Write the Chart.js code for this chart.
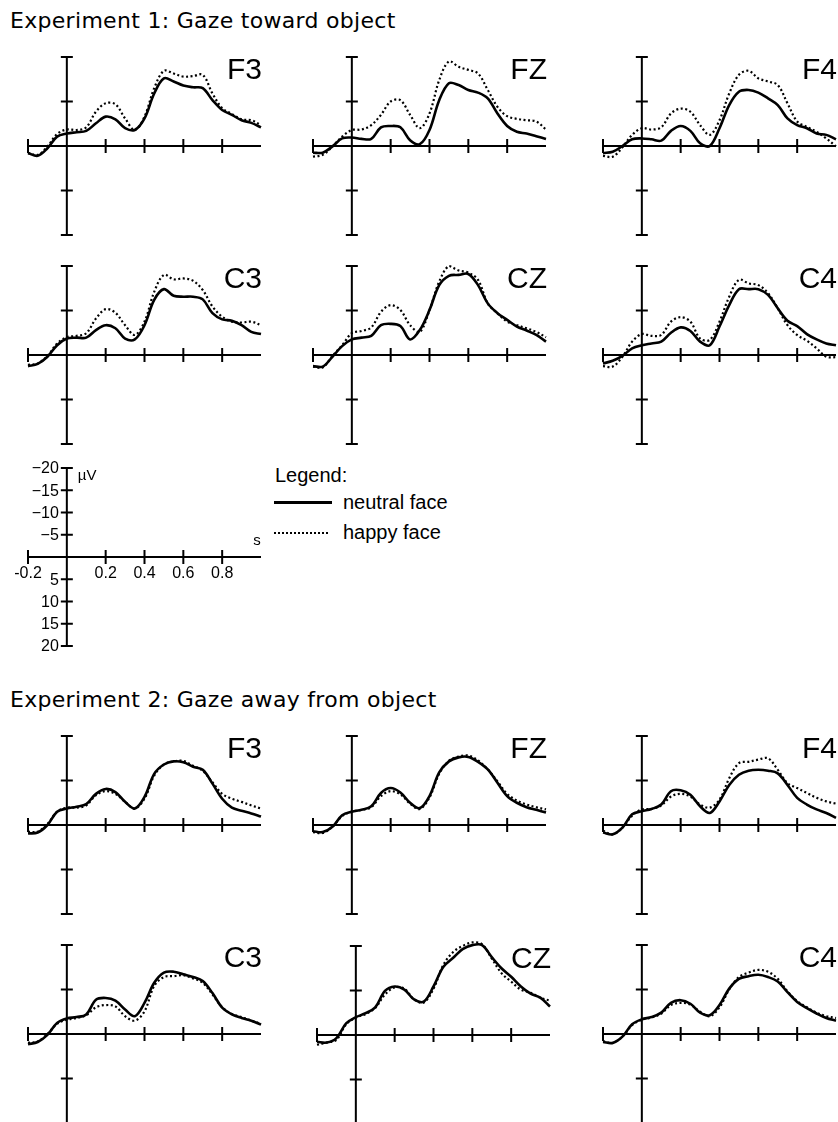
<!DOCTYPE html>
<html>
<head>
<meta charset="utf-8">
<script src="https://cdn.jsdelivr.net/npm/chart.js@4.4.1/dist/chart.umd.min.js"></script>
<style>
  html, body { margin: 0; padding: 0; background: #fff; }
  body { width: 838px; height: 1122px; overflow: hidden; position: relative; }
  canvas { position: absolute; }
  .txt { position: absolute; white-space: nowrap; line-height: 1; color: #000; }
  .title { font-family: "DejaVu Sans", sans-serif; font-size: 22px; letter-spacing: 0.3px; }
  .leg { font-family: "Liberation Sans", Arial, sans-serif; font-size: 20px; }
</style>
</head>
<body>
<div class="txt title" style="left:10px; top:10px;">Experiment 1: Gaze toward object</div>
<div class="txt title" style="left:10px; top:689px;">Experiment 2: Gaze away from object</div>

<div class="txt leg" style="left:275px; top:465px;">Legend:</div>
<div style="position:absolute; left:274px; top:501px; width:58px; height:0; border-top:3px solid #000;"></div>
<div class="txt leg" style="left:343px; top:492px;">neutral face</div>
<div style="position:absolute; left:274px; top:532px; width:54px; height:0; border-top:2px dotted #000;"></div>
<div class="txt leg" style="left:343px; top:522px;">happy face</div>

<script>
// time axis in seconds, one sample every 50 ms
const times = [-0.2, -0.15, -0.1, -0.05, 0, 0.05, 0.1, 0.15, 0.2, 0.25, 0.3, 0.35, 0.4,
  0.45, 0.5, 0.55, 0.6, 0.65, 0.7, 0.75, 0.8, 0.85, 0.9, 0.95, 1.0];

// Experiment 1 (µV, negative is up)
const exp1F3Neutral = [1.6, 2.2, 0.5, -2.1, -2.8, -3.1, -3.4, -5.1, -6.6, -6.0, -4.0, -3.6, -6.2,
  -11.8, -15.2, -14.5, -13.6, -13.2, -13.0, -10.3, -8.1, -7.0, -5.8, -5.2, -4.2];
const exp1F3Happy = [1.6, 2.0, 0.1, -2.7, -3.7, -3.6, -4.2, -7.7, -9.6, -9.4, -6.2, -3.6, -6.6,
  -13.0, -16.9, -16.3, -15.6, -15.7, -16.0, -11.8, -8.5, -7.2, -6.0, -5.8, -4.7];
const exp1FZNeutral = [1.5, 1.5, 0.1, -1.7, -1.9, -1.6, -1.6, -4.2, -4.5, -4.2, -1.3, -0.4, -3.6,
  -10.3, -14.1, -13.7, -12.6, -12.0, -10.7, -7.3, -4.5, -3.2, -2.8, -2.2, -1.6];
const exp1FZHappy = [2.4, 2.0, 0.1, -2.1, -3.6, -3.7, -4.7, -7.0, -10.0, -10.3, -7.0, -4.0, -7.3,
  -14.8, -19.0, -17.8, -17.1, -16.3, -12.6, -8.8, -6.7, -6.1, -5.8, -5.5, -3.7];
const exp1F4Neutral = [1.6, 1.3, 0.0, -1.5, -1.7, -1.5, -1.2, -3.4, -4.5, -3.4, -0.6, 0.0, -4.0,
  -9.2, -12.2, -12.6, -12.0, -10.7, -9.2, -6.2, -4.7, -4.0, -2.8, -2.5, -1.5];
const exp1F4Happy = [2.2, 2.4, 0.3, -2.5, -4.0, -3.7, -4.2, -7.3, -8.4, -7.7, -4.7, -2.5, -5.8,
  -11.8, -16.0, -16.9, -15.2, -14.5, -13.7, -9.6, -5.5, -4.3, -3.2, -1.7, 0.1];
const exp1C3Neutral = [2.5, 2.0, 0.4, -2.2, -3.7, -3.9, -3.9, -5.6, -6.7, -6.0, -3.7, -3.5, -6.7,
  -12.4, -14.8, -13.3, -13.1, -13.1, -12.5, -9.4, -8.0, -7.7, -6.7, -5.2, -4.7];
const exp1C3Happy = [2.2, 1.9, 0.2, -2.6, -4.0, -4.3, -4.9, -8.2, -10.3, -9.5, -6.7, -4.5, -7.5,
  -14.2, -18.0, -17.0, -17.2, -16.7, -14.6, -10.9, -8.6, -7.5, -7.3, -7.5, -6.7];
const exp1CZNeutral = [2.5, 2.6, 0.4, -2.0, -3.5, -3.9, -4.3, -6.7, -7.0, -6.5, -3.5, -5.6, -10.1,
  -15.7, -17.8, -18.0, -18.2, -15.7, -11.6, -9.4, -7.9, -6.4, -5.5, -4.5, -3.0];
const exp1CZHappy = [2.6, 2.8, 0.2, -2.2, -4.9, -5.4, -6.2, -9.7, -11.2, -10.1, -6.7, -5.2, -10.1,
  -16.5, -20.0, -19.0, -18.5, -16.9, -11.6, -9.4, -7.5, -6.7, -6.0, -5.2, -4.0];
const exp1C4Neutral = [1.9, 1.3, 0.2, -1.5, -2.2, -2.6, -3.0, -5.0, -6.2, -5.4, -3.0, -2.2, -6.4,
  -11.2, -14.8, -14.8, -14.8, -13.5, -10.5, -7.7, -6.5, -4.7, -3.5, -2.6, -2.2];
const exp1C4Happy = [2.5, 2.6, 0.4, -3.0, -4.7, -4.3, -4.5, -7.5, -8.5, -7.5, -3.7, -3.4, -7.5,
  -13.1, -16.9, -16.1, -15.7, -13.9, -10.5, -6.7, -4.5, -3.2, -1.5, 0.4, 0.5];

// Experiment 2
const exp2F3Neutral = [1.9, 1.7, 0.0, -3.0, -3.7, -4.1, -4.7, -7.0, -8.1, -7.4, -5.2, -3.7, -6.3,
  -11.5, -13.6, -14.3, -14.1, -13.1, -12.4, -9.3, -5.9, -3.9, -3.2, -2.6, -1.9];
const exp2F3Happy = [1.5, 1.5, -0.2, -3.0, -3.9, -3.9, -4.4, -6.7, -7.6, -7.0, -5.2, -3.7, -5.9,
  -11.1, -13.6, -14.3, -14.4, -13.3, -12.2, -9.6, -7.0, -5.9, -5.2, -4.4, -3.7];
const exp2FZNeutral = [1.4, 1.6, 0.4, -2.2, -3.0, -3.4, -4.2, -7.2, -8.3, -7.3, -5.0, -3.8, -6.5,
  -11.8, -14.3, -15.2, -15.3, -14.2, -12.5, -9.5, -6.5, -5.0, -4.0, -3.4, -2.8];
const exp2FZHappy = [1.6, 1.8, 0.4, -2.0, -3.0, -3.4, -4.0, -6.5, -7.6, -6.9, -4.8, -3.6, -6.2,
  -11.5, -14.4, -15.4, -15.6, -14.5, -12.5, -9.8, -7.0, -5.5, -4.6, -4.0, -3.5];
const exp2F4Neutral = [1.7, 2.1, 0.6, -2.4, -3.1, -3.6, -4.6, -7.6, -7.8, -6.8, -4.2, -2.7, -5.3,
  -9.0, -11.3, -12.2, -12.4, -12.2, -11.6, -9.0, -6.1, -4.6, -3.5, -2.7, -1.6];
const exp2F4Happy = [1.3, 2.1, 0.6, -2.1, -3.5, -3.6, -4.4, -6.4, -7.0, -6.4, -4.6, -3.9, -5.7,
  -10.5, -13.9, -14.2, -14.7, -15.0, -12.4, -9.4, -8.3, -7.2, -6.1, -5.3, -4.8];
const exp2C3Neutral = [2.3, 1.8, 0.2, -2.5, -3.5, -3.8, -4.4, -7.7, -8.1, -7.5, -5.5, -4.0, -7.0,
  -11.5, -13.8, -14.0, -13.4, -12.8, -11.9, -9.2, -5.9, -4.4, -3.6, -3.0, -2.1];
const exp2C3Happy = [2.0, 1.7, 0.0, -2.3, -3.2, -3.6, -4.2, -6.0, -6.5, -6.2, -4.0, -3.0, -5.1,
  -10.8, -12.8, -13.0, -13.2, -12.5, -11.5, -8.9, -6.0, -4.5, -3.8, -3.0, -2.3];
const exp2CZNeutral = [1.5, 1.7, 0.7, -2.6, -4.0, -4.9, -6.2, -9.9, -10.9, -10.2, -8.0, -7.5, -10.9,
  -15.3, -17.3, -19.3, -20.2, -20.2, -17.5, -15.0, -13.1, -10.9, -9.3, -8.4, -6.4];
const exp2CZHappy = [2.2, 1.7, 1.1, -2.4, -3.9, -4.7, -6.1, -9.1, -10.7, -10.4, -8.0, -7.3, -10.4,
  -15.7, -18.6, -20.0, -20.8, -20.4, -17.2, -13.9, -12.0, -10.2, -9.5, -8.4, -7.7];
const exp2C4Neutral = [1.8, 2.0, 0.6, -2.2, -3.3, -3.8, -4.8, -7.0, -7.6, -6.8, -4.8, -4.2, -6.5,
  -10.2, -12.4, -13.0, -13.3, -12.8, -11.8, -9.4, -7.2, -5.8, -4.6, -3.6, -3.0];
const exp2C4Happy = [1.6, 2.0, 0.6, -2.0, -3.2, -3.7, -4.6, -6.5, -7.0, -6.6, -5.0, -4.0, -6.0,
  -10.0, -12.8, -13.8, -14.4, -14.0, -12.4, -9.6, -7.4, -6.0, -4.8, -4.0, -3.6];

// axis ticks
const panelXTicks = [-0.2, 0.2, 0.4, 0.6, 0.8];
const panelYTicks = [-20, -10, 10, 20];
const scaleYTicks = [-20, -15, -10, -5, 5, 10, 15, 20];
const scaleXTicks = [-0.2, 0.2, 0.4, 0.6, 0.8];

// layout: plot area size and the pixel where (0 s, 0 µV) sits for each panel
const AREA_W = 233;
const AREA_H = 178;
const PAD = 14;

const panels = [
  { name: 'F3', x0: 67, y0: 146, neutral: exp1F3Neutral, happy: exp1F3Happy },
  { name: 'FZ', x0: 352, y0: 146, neutral: exp1FZNeutral, happy: exp1FZHappy },
  { name: 'F4', x0: 642, y0: 146, neutral: exp1F4Neutral, happy: exp1F4Happy },
  { name: 'C3', x0: 67, y0: 355, neutral: exp1C3Neutral, happy: exp1C3Happy },
  { name: 'CZ', x0: 352, y0: 355, neutral: exp1CZNeutral, happy: exp1CZHappy },
  { name: 'C4', x0: 642, y0: 355, neutral: exp1C4Neutral, happy: exp1C4Happy },
  { name: 'F3', x0: 67, y0: 825, neutral: exp2F3Neutral, happy: exp2F3Happy },
  { name: 'FZ', x0: 352, y0: 825, neutral: exp2FZNeutral, happy: exp2FZHappy },
  { name: 'F4', x0: 642, y0: 825, neutral: exp2F4Neutral, happy: exp2F4Happy },
  { name: 'C3', x0: 67, y0: 1034, neutral: exp2C3Neutral, happy: exp2C3Happy },
  { name: 'CZ', x0: 356, y0: 1035, neutral: exp2CZNeutral, happy: exp2CZHappy },
  { name: 'C4', x0: 642, y0: 1034, neutral: exp2C4Neutral, happy: exp2C4Happy },
];

// draws the crossing axes with tick marks, plus optional labels
const erpAxes = {
  id: 'erpAxes',
  beforeDatasetsDraw(chart, args, opts) {
    const { ctx } = chart;
    const x = chart.scales.x;
    const y = chart.scales.y;
    const cx = x.getPixelForValue(0);
    const cy = y.getPixelForValue(0);
    ctx.save();
    ctx.strokeStyle = '#000';
    ctx.lineWidth = 2;
    ctx.beginPath();
    ctx.moveTo(cx, y.getPixelForValue(-20));
    ctx.lineTo(cx, y.getPixelForValue(20));
    ctx.moveTo(x.getPixelForValue(-0.2), cy);
    ctx.lineTo(x.getPixelForValue(1.0), cy);
    opts.yTicks.forEach((v) => {
      const py = y.getPixelForValue(v);
      ctx.moveTo(cx - 6, py);
      ctx.lineTo(cx + 6, py);
    });
    opts.xTicks.forEach((t) => {
      const px = x.getPixelForValue(t);
      ctx.moveTo(px, cy - 7);
      ctx.lineTo(px, cy + 7);
    });
    ctx.stroke();

    ctx.fillStyle = '#000';
    if (opts.name) {
      ctx.font = '30px "Liberation Sans", Arial, sans-serif';
      ctx.textAlign = 'right';
      ctx.textBaseline = 'alphabetic';
      ctx.fillText(opts.name, x.getPixelForValue(1.0) + 1, y.getPixelForValue(-15));
    }
    if (opts.tickLabels) {
      ctx.font = '16px "Liberation Sans", Arial, sans-serif';
      ctx.textAlign = 'right';
      ctx.textBaseline = 'middle';
      opts.yTicks.forEach((v) => {
        const label = v < 0 ? '\u2212' + Math.abs(v) : String(v);
        ctx.fillText(label, cx - 8, y.getPixelForValue(v) + 1);
      });
      ctx.textAlign = 'center';
      ctx.textBaseline = 'top';
      opts.xTicks.forEach((t) => {
        ctx.fillText(t.toFixed(1), x.getPixelForValue(t), cy + 9);
      });
      ctx.textAlign = 'left';
      ctx.textBaseline = 'alphabetic';
      ctx.font = '15px "Liberation Sans", Arial, sans-serif';
      ctx.fillText('\u00b5V', cx + 11, y.getPixelForValue(-17.3));
      ctx.fillText('s', x.getPixelForValue(0.96), y.getPixelForValue(-2.8));
    }
    ctx.restore();
  },
};

function toPoints(values) {
  return times.map((t, i) => ({ x: t, y: values[i] }));
}

function makeChart(x0, y0, datasets, axesOpts) {
  const canvas = document.createElement('canvas');
  canvas.width = AREA_W + 2 * PAD;
  canvas.height = AREA_H + 2 * PAD;
  canvas.style.left = Math.round(x0 - AREA_W * 0.2 / 1.2 - PAD) + 'px';
  canvas.style.top = (y0 - AREA_H / 2 - PAD) + 'px';
  document.body.appendChild(canvas);

  new Chart(canvas.getContext('2d'), {
    type: 'line',
    data: { datasets },
    options: {
      responsive: false,
      animation: false,
      layout: { padding: PAD },
      elements: { point: { radius: 0 } },
      plugins: { legend: { display: false }, tooltip: { enabled: false }, erpAxes: axesOpts },
      scales: {
        x: { type: 'linear', min: -0.2, max: 1.0, display: false },
        y: { type: 'linear', min: -20, max: 20, reverse: true, display: false },
      },
    },
    plugins: [erpAxes],
  });
}

panels.forEach((p) => {
  makeChart(p.x0, p.y0, [
    {
      label: 'neutral face',
      data: toPoints(p.neutral),
      borderColor: '#000',
      borderWidth: 2.6,
      tension: 0.35,
      clip: false,
    },
    {
      label: 'happy face',
      data: toPoints(p.happy),
      borderColor: '#000',
      borderWidth: 2.2,
      borderDash: [2, 2.5],
      tension: 0.35,
      clip: false,
    },
  ], { name: p.name, xTicks: panelXTicks, yTicks: panelYTicks });
});

// calibration panel with units
makeChart(67, 557, [], { xTicks: scaleXTicks, yTicks: scaleYTicks, tickLabels: true });
</script>
</body>
</html>
